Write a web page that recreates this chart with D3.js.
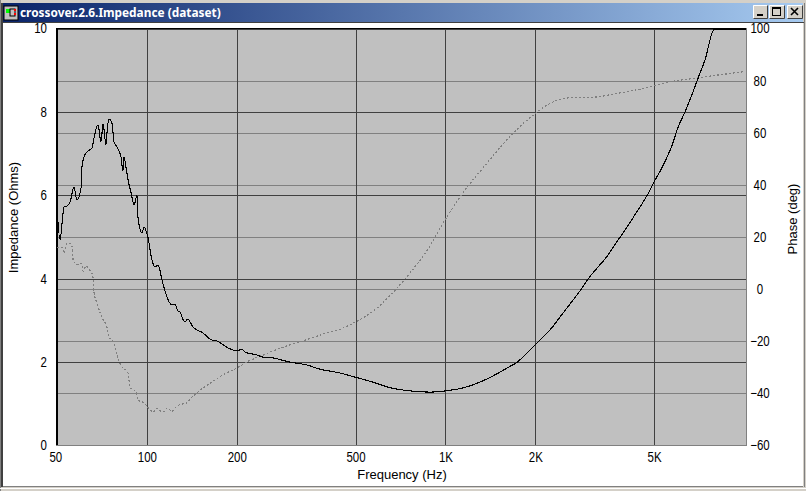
<!DOCTYPE html>
<html><head><meta charset="utf-8">
<script src="https://cdn.jsdelivr.net/npm/d3@7/dist/d3.min.js"></script>
<style>
html,body{margin:0;padding:0;background:#D4D0C8;overflow:hidden}
svg{display:block}
text{font-family:"Liberation Sans",Arial,sans-serif;font-size:13px;fill:#000}
.axis .domain{display:none}
.axis text{font-family:"Liberation Sans",sans-serif;font-size:14px}
.crisp line,.crisp path{shape-rendering:crispEdges}
</style></head><body>
<svg id="c" width="806" height="491"></svg>
<script>
const chartTitle = "crossover.2.6.Impedance (dataset)";
const xLabel = "Frequency (Hz)";
const yLeftLabel = "Impedance (Ohms)";
const yRightLabel = "Phase (deg)";
const freqTicks = [50,100,200,500,1000,2000,5000];
const freqTickLabels = ["50","100","200","500","1K","2K","5K"];
const impedanceTicks = [0,2,4,6,8,10];
const phaseTicks = [-60,-40,-20,0,20,40,60,80,100];

const impedanceFreq = [50,51.2,52,52.8,54,55.3,57,58.3,60.2,60.6,61.6,63,65.5,66.5,68.6,70.2,71.3,73,73.5,74.7,76.4,77.6,79.4,81.9,83.2,83.8,85.2,86.5,88.5,90.6,92.7,93.4,96.3,97.8,100.9,104,106.5,109,112.4,115,121.4,124.2,127,129,134,137,142.8,154,165,171.5,187,200,208,213,234,245,264,301,344,380,443,498,572,642,760,890,1000,1145,1305,1445,1610,1740,1880,2025,2240,2480,2870,3005,3480,3850,4250,4850,5000,5375,5750,6020,6350,6750,7080,7400,7950,10160];
const impedance = [5.70,4.93,5.34,5.72,5.74,5.84,6.20,5.89,6.18,6.68,6.92,7.04,7.13,7.37,7.69,7.28,7.71,7.21,7.49,7.83,7.73,7.28,7.16,6.92,6.58,6.92,6.65,6.37,6.06,5.77,6.01,5.46,5.10,5.24,4.98,4.45,4.28,4.33,3.97,3.70,3.37,3.39,3.23,3.20,2.96,3.03,2.84,2.70,2.53,2.51,2.34,2.27,2.31,2.24,2.17,2.12,2.10,2.00,1.93,1.83,1.74,1.64,1.52,1.40,1.31,1.28,1.31,1.38,1.52,1.67,1.86,2.00,2.22,2.46,2.77,3.18,3.78,3.99,4.54,5.00,5.46,6.13,6.32,6.73,7.21,7.64,8.00,8.48,8.88,9.24,9.98,9.98];

const phaseFreq = [50,52,52.8,54,55.3,56.3,56.6,58.3,60.6,61.1,62.5,64.5,66,66.5,68,70.7,73.5,75.2,77.6,79.4,81.9,86.5,87.8,92,93.4,97,100.9,105,108,113,117,121.4,126,131,136,141.5,147,154,160,179,200,216,245,279,321,380,410,443,498,590,668,760,868,1000,1210,1360,1548,1710,2000,2365,2760,3050,3760,4595,5530,7130,10090];
const phase = [16.1,16.1,13.8,17.6,17.6,15.7,11.1,9.5,9.9,6.9,8.8,7.2,4.6,-1.2,-5.4,-10.8,-14.6,-18.8,-20.7,-25.3,-29.2,-32.2,-37.6,-39.5,-42.6,-43.4,-45.3,-47.2,-45.7,-47.2,-45.7,-46.8,-44.9,-44.1,-43.7,-41.4,-39.9,-38,-36.8,-33,-30.3,-28,-25.3,-22.7,-20.4,-17.7,-16.5,-15.4,-12.7,-7.3,-1.2,6.1,14.9,26.8,40.6,47.5,55.2,60.5,67.4,72.4,73.6,73.6,75.1,77,79.3,81.2,83.5];

const svg = d3.select("#c");
const L=57,R=746,T=28.5,B=445.5;

// window chrome
const defs = svg.append("defs");
const g0 = defs.append("linearGradient").attr("id","tb");
g0.append("stop").attr("offset","0").attr("stop-color","#0A246A");
g0.append("stop").attr("offset","1").attr("stop-color","#A6CAF0");
const rect=(x,y,w,h,f,p)=>(p||svg).append("rect").attr("x",x).attr("y",y).attr("width",w).attr("height",h).attr("fill",f);
rect(0,0,806,491,"#D4D0C8");
rect(0,0,1,491,"#808080");
rect(1,3,2,484,"#404040");
rect(3,3,800,19,"url(#tb)");
rect(2,22,802,1,"#404040");
rect(3,23,800,463,"#FFFFFF");
rect(3,486,800,1,"#808080");
rect(0,488,806,1,"#FFFFFF");
rect(804,3,1,484,"#808080");
svg.append("text").attr("x",20).attr("y",16.5).style("font-family","'Noto Sans'").style("font-weight","bold").style("font-size","11.85px").style("fill","#fff").text(chartTitle);

// icon
const ic=svg.append("g");
rect(4,6,14,14,"#C0C0C0",ic).attr("stroke","#000").attr("stroke-width",1);
rect(6,9,4,4,"#00FF00",ic);
rect(10,9,5,7,"none",ic).attr("stroke","#000");
rect(14,9,2,2,"#FF0000",ic);
rect(14,13,2,2,"#FF0000",ic);

// window buttons
[[753,15,"min"],[769,16,"max"],[787,16,"close"]].forEach(([x,w,k])=>{
  const b=svg.append("g");
  rect(x,5,w,14,"#D4D0C8",b);
  b.append("path").attr("d",`M${x+.5} 18.5V5.5H${x+w-.5}`).attr("stroke","#fff").attr("fill","none");
  b.append("path").attr("d",`M${x+.5} 18.5H${x+w-.5}V5.5`).attr("stroke","#404040").attr("fill","none");
  if(k==="min") rect(x+4,14,6,2,"#000",b);
  if(k==="max"){rect(x+3.5,7.5,8,8,"none",b).attr("stroke","#000");rect(x+3,7,9,2,"#000",b);}
  if(k==="close") b.append("path").attr("d",`M${x+4} 8L${x+11} 15M${x+11} 8L${x+4} 15`).attr("stroke","#000").attr("stroke-width",1.6);
});

// scales
const x = d3.scaleLog().domain([50,10160]).range([L,R]);
const yZ = d3.scaleLinear().domain([0,10]).range([B,T]);
const yP = d3.scaleLinear().domain([-60,100]).range([B,T]);

rect(L,T,R-L,B-T,"#C0C0C0");

// grid (phase first, lighter)
const gridP = svg.append("g").attr("class","axis crisp").attr("transform",`translate(${L},0)`)
  .call(d3.axisRight(yP).tickValues(phaseTicks).tickSize(R-L).tickFormat(""));
gridP.selectAll("line").attr("stroke","#808080");
const gridZ = svg.append("g").attr("class","axis crisp").attr("transform",`translate(${L},0)`)
  .call(d3.axisRight(yZ).tickValues(impedanceTicks).tickSize(R-L).tickFormat(""));
gridZ.selectAll("line").attr("stroke","#404040");
const gridX = svg.append("g").attr("class","axis crisp").attr("transform",`translate(0,${B})`)
  .call(d3.axisTop(x).tickValues(freqTicks).tickSize(B-T).tickFormat(""));
gridX.selectAll("line").attr("stroke","#404040");

// sunken frame
rect(L-1,28,R-L+1,1,"#000");
rect(L-1,28,2,B-28,"#000");
rect(L-1,445,R-L+2,1,"#808080");
rect(R,28,1,418,"#808080");
rect(L-1,446,R-L+3,1,"#FFFFFF");
rect(R+1,28,1,419,"#FFFFFF");

// series
const clip = defs.append("clipPath").attr("id","pa");
clip.append("rect").attr("x",L).attr("y",27).attr("width",R-L).attr("height",418);
const lineP = d3.line().x((d,i)=>x(phaseFreq[i])).y(d=>yP(d)).curve(d3.curveMonotoneX);
const lineZ = d3.line().x((d,i)=>x(impedanceFreq[i])).y(d=>yZ(d)).curve(d3.curveMonotoneX);
const series = svg.append("g").attr("class","crisp");
series.append("path").datum(phase).attr("d",lineP).attr("fill","none").attr("stroke","#808080").attr("stroke-width",1.2).attr("stroke-dasharray","2 2").attr("clip-path","url(#pa)");
series.append("path").datum(impedance).attr("d",lineZ).attr("fill","none").attr("stroke","#000").attr("stroke-width",1.1).attr("clip-path","url(#pa)");

// axis labels (tall, narrow digits as in the reference)
const narrow = sel => sel.selectAll("text").attr("transform","scale(.82,1)");
const axL = svg.append("g").attr("class","axis").attr("transform","translate(47,0)")
  .call(d3.axisLeft(yZ).tickValues(impedanceTicks).tickSize(0).tickPadding(0).tickFormat(d3.format("d")));
narrow(axL);
const axR = svg.append("g").attr("class","axis").attr("transform","translate(760,0)")
  .call(d3.axisRight(yP).tickValues(phaseTicks).tickSize(0).tickPadding(0).tickFormat(d3.format("d")));
axR.selectAll("text").attr("text-anchor","middle").attr("x",0);
narrow(axR);
const axB = svg.append("g").attr("class","axis").attr("transform","translate(0,452)")
  .call(d3.axisBottom(x).tickValues(freqTicks).tickSize(0).tickPadding(0).tickFormat((d,i)=>freqTickLabels[i]));
narrow(axB);
axB.selectAll("g.tick").filter(d=>d===50).select("text").attr("x",-2);

svg.append("text").attr("x",402).attr("y",479).attr("text-anchor","middle").text(xLabel);
svg.append("text").attr("transform","translate(18,217.5) rotate(-90)").attr("text-anchor","middle").text(yLeftLabel);
svg.append("text").attr("transform","translate(797,219) rotate(-90)").attr("text-anchor","middle").text(yRightLabel);
</script></body></html>
